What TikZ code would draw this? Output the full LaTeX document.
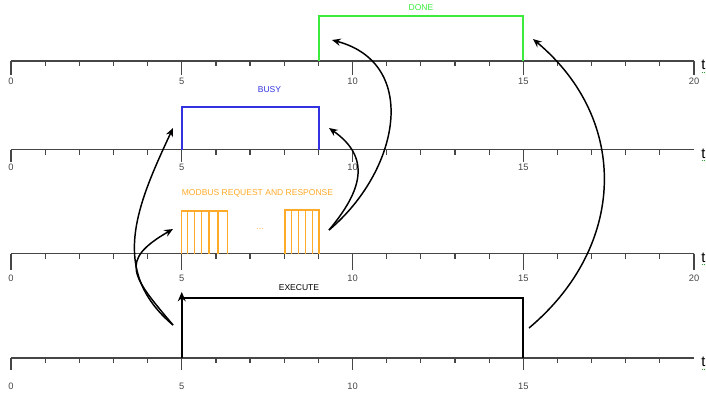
\documentclass[tikz,border=0pt]{standalone}
\usepackage{fontspec}
\setmainfont{Liberation Sans}
\usetikzlibrary{arrows.meta}

\definecolor{donegreen}{RGB}{60,235,60}
\definecolor{busyblue}{RGB}{50,50,225}
\definecolor{mborange}{RGB}{255,170,40}
\definecolor{axisgray}{RGB}{70,70,70}

\begin{document}
\begin{tikzpicture}[x=0.75pt,y=0.75pt]
\tikzset{axisline/.style = {draw=axisgray,line width=0.9pt}}
\tikzset{signal/.style = {line width=1.4pt}}
\tikzset{pulse/.style = {draw=mborange,line width=1pt}}
\tikzset{edge/.style = {-{Stealth[length=6.5pt,width=5.5pt]},line width=1.1pt}}
\tikzset{ticklab/.style = {text=axisgray,font=\fontsize{7}{8}\selectfont,inner sep=0pt}}
\tikzset{siglab/.style = {font=\fontsize{6.4}{7.5}\selectfont,inner sep=0pt}}
\tikzset{tlab/.style = {font=\fontsize{11}{12}\selectfont,inner sep=0pt,anchor=base west}}

\useasboundingbox (0,0) rectangle (706,394);

% time axes

\foreach \y/\len/\lab/\last [count=\k] in {333/14/20/20, 244.5/12/17.5/19, 140.5/16/25/20, 36/12/28.7/19} {
  \draw[axisline] (11,\y) -- (694,\y);
  \foreach \i in {0,...,\last}
    \draw[axisline] ({11+34.15*\i},\y) -- ++(0,-5);
  \foreach \i in {0,5,...,\last} {
    \draw[axisline] ({11+34.15*\i},\y) -- ++(0,-\len);
    \node[ticklab] (lab\k-\i) at ({11+34.15*\i},{\y-\lab}) {\i};
  }
  \node[tlab] (t\k) at (701,{\y-8.5}) {t};
  \draw[donegreen!70!black,densely dotted,line width=0.5pt] (701.5,{\y-11}) -- (706,{\y-11});
}

% signals

\draw[signal,draw=donegreen] (319,333) -- (319,378) -- (523.25,378) -- (523.25,333);
\draw[signal,draw=busyblue] (181.75,244.5) -- (181.75,287) -- (319,287) -- (319,244.5);
\draw[signal,-{Stealth[length=7pt,width=6pt]}] (181.75,36) -- (181.75,102);
\draw[signal] (181.75,96) -- (523.25,96) -- (523.25,36);

\draw[pulse] (181.75,140.5) -- (181.75,183) -- (227.5,183) -- (227.5,140.5);
\foreach \x in {187.5,194.5,201.5,209,218}
  \draw[pulse] (\x,140.5) -- (\x,183);
\draw[pulse] (285,140.5) -- (285,184) -- (319,184) -- (319,140.5);
\foreach \x in {291.5,298.5,305.5,312.5}
  \draw[pulse] (\x,140.5) -- (\x,184);

% labels

\node[siglab,text=donegreen] (done) at (421,386) {DONE};
\node[siglab,text=busyblue] (busy) at (269.5,304.5) {BUSY};
\node[siglab,text=mborange] (modbus) at (257.5,201) {MODBUS REQUEST AND RESPONSE};
\node[siglab,text=mborange] (dots) at (260,165) {...};
\node[siglab,text=black] (execute) at (299,106.5) {EXECUTE};

% arrow ends

\coordinate (exeL) at (173,69);
\coordinate (exeR) at (529,66);
\coordinate (mbL) at (173,165);
\coordinate (mbR) at (329,164);
\coordinate (busyL) at (173,266);
\coordinate (busyR) at (329,266);
\coordinate (doneL) at (332,354);
\coordinate (doneR) at (533,355);

% edges

\draw[edge] (exeL) to[out=140,in=-115,looseness=1.1] (busyL);
\draw[edge] (exeL) to[out=130,in=-150,looseness=1.7] (mbL);
\draw[edge] (mbR) to[out=50,in=-35,looseness=1.3] (busyR);
\draw[edge] (mbR) to[out=40,in=-15,looseness=1.23] (doneL);
\draw[edge] (exeR) to[out=40,in=-40,looseness=1.12] (doneR);
\end{tikzpicture}
\end{document}
